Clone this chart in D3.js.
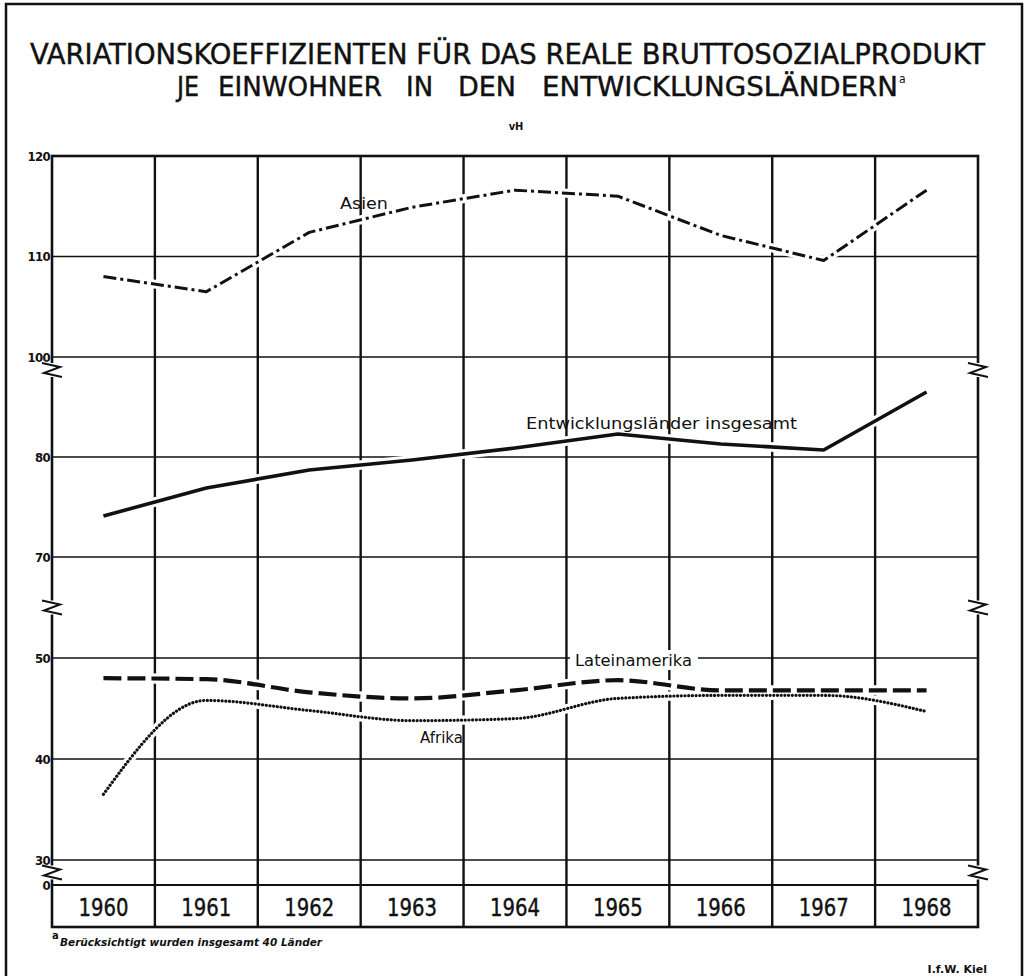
<!DOCTYPE html>
<html>
<head>
<meta charset="utf-8">
<script src="https://cdn.jsdelivr.net/npm/d3@7"></script>
<style>
  body { margin: 0; background: #fff; }
  text { fill: #111; }
</style>
</head>
<body>
<div id="chart"></div>
<script>
// data (vH)
let years = [1960, 1961, 1962, 1963, 1964, 1965, 1966, 1967, 1968];
let asien = [108, 106.5, 112.4, 114.9, 116.6, 116, 112.1, 109.6, 116.6];
let insgesamt = [74.1, 76.9, 78.7, 79.7, 80.9, 82.3, 81.3, 80.7, 86.5];
let lateinamerika = [48, 47.9, 46.6, 46, 46.8, 47.8, 46.8, 46.8, 46.8];
let afrika = [36.5, 45.8, 44.8, 43.8, 44, 46, 46.3, 46.3, 44.7];

let tickValues = [120, 110, 100, 80, 70, 50, 40, 30, 0];
let gridValues = [110, 100, 80, 70, 50, 40, 30];
let breakValues = [88.7, 55, 15]; // where the axis is cut

let W = 1026, H = 976;
let plot = { left: 52, right: 978, top: 156, bottom: 885, boxBottom: 927 };

let svg = d3.select("#chart").append("svg")
  .attr("width", W).attr("height", H);

// x: one column per year
let x = d3.scaleBand().domain(years).range([plot.left, plot.right]).padding(0);
let cx = (yr) => x(yr) + x.bandwidth() / 2;

// broken y axis: three pieces stacked, 0 at the very bottom
let y = d3.scaleLinear()
  .domain([0, 30, 60, 70, 90, 100, 120])
  .range([885, 860, 557, 557, 357, 357, 156]);

// page frame
svg.append("path")
  .attr("d", `M6,${H} V4 H1022 V${H}`)
  .attr("fill", "none").attr("stroke", "#111").attr("stroke-width", 2.5);

// horizontal grid
svg.append("g").selectAll("line")
  .data(gridValues).enter().append("line")
  .attr("x1", plot.left).attr("x2", plot.right)
  .attr("y1", (d) => y(d)).attr("y2", (d) => y(d))
  .attr("stroke", "#111").attr("stroke-width", 1.6);

// vertical grid through the year boxes
svg.append("g").selectAll("line")
  .data(years.slice(1)).enter().append("line")
  .attr("x1", (d) => x(d)).attr("x2", (d) => x(d))
  .attr("y1", plot.top).attr("y2", plot.boxBottom)
  .attr("stroke", "#111").attr("stroke-width", 2.4);

// border + year box
svg.append("rect")
  .attr("x", plot.left).attr("y", plot.top)
  .attr("width", plot.right - plot.left).attr("height", plot.boxBottom - plot.top)
  .attr("fill", "none").attr("stroke", "#111").attr("stroke-width", 2.6);
svg.append("line")
  .attr("x1", plot.left).attr("x2", plot.right)
  .attr("y1", y(0)).attr("y2", y(0))
  .attr("stroke", "#111").attr("stroke-width", 2);

// tick labels
svg.append("g").selectAll("text")
  .data(tickValues).enter().append("text")
  .attr("x", plot.left - 2).attr("y", (d) => y(d))
  .attr("dy", "0.36em")
  .attr("text-anchor", "end")
  .attr("font-family", "DejaVu Sans Condensed, DejaVu Sans")
  .attr("font-weight", "bold")
  .attr("font-size", 13)
  .attr("letter-spacing", -0.6)
  .text((d) => d);

// axis breaks, both sides
let zig = (xx, yy) =>
  `M${xx - 10},${yy - 7} L${xx + 8},${yy - 3} L${xx - 8},${yy + 3} L${xx + 10},${yy + 7}`;
[plot.left, plot.right].forEach(function (xx) {
  breakValues.forEach(function (v) {
    let yy = y(v);
    svg.append("rect")
      .attr("x", xx - 3).attr("y", yy - 7).attr("width", 6).attr("height", 14)
      .attr("fill", "#fff");
    svg.append("path").attr("d", zig(xx, yy))
      .attr("fill", "none").attr("stroke", "#111").attr("stroke-width", 2);
  });
});

// series
let line = d3.line().x((d, i) => cx(years[i])).y((d) => y(d));
let series = [
  { values: asien, dash: "13,4,3,4", width: 3, curve: d3.curveLinear },
  { values: insgesamt, dash: null, width: 3.6, curve: d3.curveLinear },
  { values: lateinamerika, dash: "18,6", width: 4.2, curve: d3.curveMonotoneX },
  { values: afrika, dash: "0.1,3.6", width: 3.2, curve: d3.curveMonotoneX },
];
series.forEach(function (s) {
  svg.append("path")
    .attr("d", line.curve(s.curve)(s.values))
    .attr("fill", "none").attr("stroke", "#fff").attr("stroke-width", s.width + 6);
});
series.forEach(function (s) {
  svg.append("path")
    .attr("d", line.curve(s.curve)(s.values))
    .attr("fill", "none").attr("stroke", "#111")
    .attr("stroke-width", s.width)
    .attr("stroke-dasharray", s.dash)
    .attr("stroke-linecap", s.dash && s.dash.startsWith("0.1") ? "round" : "butt")
    .attr("stroke-linejoin", "round");
});

// line labels
let labelFont = "DejaVu Sans, Verdana, sans-serif";
svg.append("rect")
  .attr("x", 570).attr("y", 650).attr("width", 128).attr("height", 20)
  .attr("fill", "#fff");
let labels = [
  { t: "Asien", x: 340, y: 209, w: 48 },
  { t: "Entwicklungsländer insgesamt", x: 526, y: 429, w: 271 },
  { t: "Lateinamerika", x: 575, y: 666, w: 117 },
  { t: "Afrika", x: 420, y: 743, w: 43 },
];
svg.append("g").selectAll("text")
  .data(labels).enter().append("text")
  .attr("x", (d) => d.x).attr("y", (d) => d.y)
  .attr("font-family", labelFont).attr("font-size", 15)
  .attr("textLength", (d) => d.w).attr("lengthAdjust", "spacingAndGlyphs")
  .text((d) => d.t);

// year labels
svg.append("g").selectAll("text")
  .data(years).enter().append("text")
  .attr("x", (d) => cx(d)).attr("y", 916)
  .attr("text-anchor", "middle")
  .attr("font-family", "DejaVu Sans Condensed, DejaVu Sans")
  .attr("font-size", 25)
  .attr("stroke", "#111").attr("stroke-width", 0.4)
  .attr("textLength", 50).attr("lengthAdjust", "spacingAndGlyphs")
  .text((d) => d);

// title
let titleFont = "DejaVu Sans Condensed, DejaVu Sans";
svg.append("text")
  .attr("x", 30).attr("y", 64)
  .attr("font-family", titleFont).attr("font-size", 28)
  .attr("stroke", "#111").attr("stroke-width", 0.4)
  .attr("textLength", 955).attr("lengthAdjust", "spacingAndGlyphs")
  .text("VARIATIONSKOEFFIZIENTEN FÜR DAS REALE BRUTTOSOZIALPRODUKT");
let titleWords = [
  { t: "JE", x: 177, w: 22 },
  { t: "EINWOHNER", x: 218, w: 164 },
  { t: "IN", x: 406, w: 27 },
  { t: "DEN", x: 458, w: 58 },
  { t: "ENTWICKLUNGSLÄNDERN", x: 542, w: 356 },
];
svg.append("g").selectAll("text")
  .data(titleWords).enter().append("text")
  .attr("x", (d) => d.x).attr("y", 96)
  .attr("font-family", titleFont).attr("font-size", 26)
  .attr("stroke", "#111").attr("stroke-width", 0.4)
  .attr("textLength", (d) => d.w).attr("lengthAdjust", "spacingAndGlyphs")
  .text((d) => d.t);
svg.append("text")
  .attr("x", 899).attr("y", 83)
  .attr("font-family", titleFont).attr("font-size", 12)
  .text("a");
svg.append("text")
  .attr("x", 516).attr("y", 130)
  .attr("text-anchor", "middle")
  .attr("font-family", titleFont).attr("font-size", 11).attr("font-weight", "bold")
  .text("vH");

// footnote and source
svg.append("text")
  .attr("x", 52).attr("y", 939)
  .attr("font-family", labelFont).attr("font-size", 10).attr("font-weight", "bold")
  .text("a");
svg.append("text")
  .attr("x", 60).attr("y", 946)
  .attr("font-family", labelFont).attr("font-size", 10.5)
  .attr("font-weight", "bold").attr("font-style", "italic")
  .attr("textLength", 262).attr("lengthAdjust", "spacingAndGlyphs")
  .text("Berücksichtigt wurden insgesamt 40 Länder");
svg.append("text")
  .attr("x", 987).attr("y", 973)
  .attr("text-anchor", "end")
  .attr("font-family", labelFont).attr("font-size", 11).attr("font-weight", "bold")
  .text("I.f.W. Kiel");
</script>
</body>
</html>
